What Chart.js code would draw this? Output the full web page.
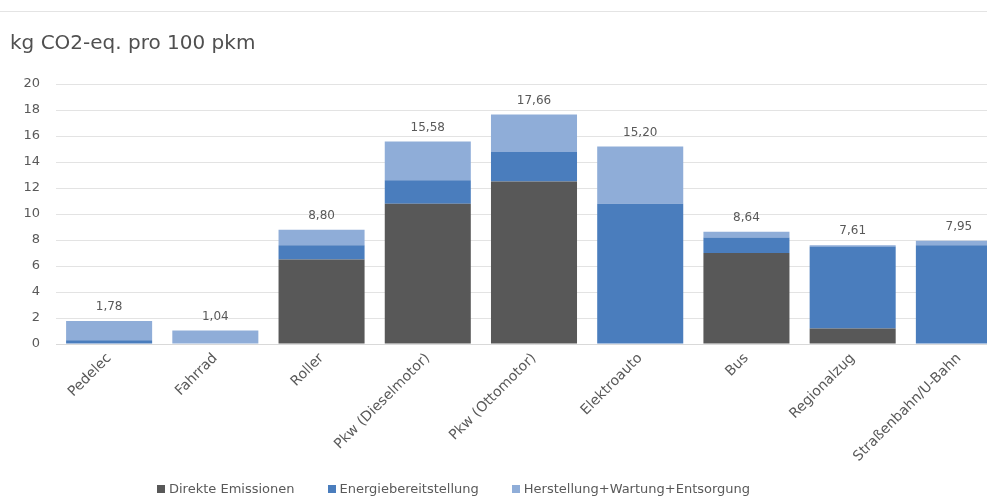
<!DOCTYPE html>
<html>
<head>
<meta charset="utf-8">
<script src="https://cdn.jsdelivr.net/npm/chart.js@4.4.1/dist/chart.umd.min.js"></script>
<style>
  html, body { margin: 0; padding: 0; background: #fff; overflow: hidden; }
  #wrap { position: relative; width: 987px; height: 497px; overflow: hidden; }
  #topline { position: absolute; left: 0; right: 0; top: 11px; border-top: 1px solid #e4e4e4; }
  #legend { position: absolute; left: 157px; top: 481px; display: flex; font: 13px "DejaVu Sans", Verdana, sans-serif; color: #595959; white-space: nowrap; }
  #legend .item { display: flex; align-items: center; margin-right: 33px; }
  #legend .box { width: 8px; height: 8px; margin-right: 4px; }
</style>
</head>
<body>
<div id="wrap">
  <div id="topline"></div>
  <canvas id="chart" width="1012" height="497"></canvas>
  <div id="legend"></div>
</div>
<script>
// Categories and series (kg CO2-eq. pro 100 pkm)
const categories = ['Pedelec', 'Fahrrad', 'Roller', 'Pkw (Dieselmotor)', 'Pkw (Ottomotor)',
    'Elektroauto', 'Bus', 'Regionalzug', 'Straßenbahn/U-Bahn'];
const direkteEmissionen = [0, 0, 6.5, 10.8, 12.5, 0, 7.0, 1.2, 0];
const energiebereitstellung = [0.3, 0, 1.1, 1.8, 2.27, 10.8, 1.2, 6.3, 7.6];
const herstellung = [1.48, 1.04, 1.2, 2.98, 2.89, 4.4, 0.44, 0.11, 0.35];
const totals = [1.78, 1.04, 8.80, 15.58, 17.66, 15.20, 8.64, 7.61, 7.95];
const yTicks = [0, 2, 4, 6, 8, 10, 12, 14, 16, 18, 20];

const fontFamily = '"DejaVu Sans", Verdana, sans-serif';

// Draw total values above each stack
const totalLabels = {
    id: 'totalLabels',
    afterDatasetsDraw(chart) {
        const { ctx } = chart;
        const meta = chart.getDatasetMeta(2);
        const yScale = chart.scales.y;
        ctx.save();
        ctx.font = '12px ' + fontFamily;
        ctx.fillStyle = '#595959';
        ctx.textAlign = 'center';
        ctx.textBaseline = 'bottom';
        meta.data.forEach((bar, i) => {
            const y = yScale.getPixelForValue(totals[i]);
            ctx.fillText(totals[i].toFixed(2).replace('.', ','), bar.x, y - 8);
        });
        ctx.restore();
    }
};

const ctx = document.getElementById('chart').getContext('2d');
const chart = new Chart(ctx, {
    type: 'bar',
    data: {
        labels: categories,
        datasets: [
            { label: 'Direkte Emissionen', data: direkteEmissionen, backgroundColor: '#585858' },
            { label: 'Energiebereitstellung', data: energiebereitstellung, backgroundColor: '#4a7dbd' },
            { label: 'Herstellung+Wartung+Entsorgung', data: herstellung, backgroundColor: '#8fadd8' }
        ]
    },
    options: {
        responsive: false,
        animation: false,
        layout: { padding: { left: 10, right: 0, top: 0, bottom: 26 } },
        datasets: { bar: { categoryPercentage: 0.81, barPercentage: 1.0 } },
        scales: {
            x: {
                stacked: true,
                grid: { display: false, drawTicks: false },
                border: { color: '#d9d9d9' },
                ticks: {
                    color: '#595959',
                    font: { family: fontFamily, size: 14 },
                    minRotation: 45,
                    maxRotation: 45,
                    padding: 6
                }
            },
            y: {
                stacked: true,
                min: 0,
                max: 20,
                afterBuildTicks(axis) { axis.ticks = yTicks.map(v => ({ value: v })); },
                afterFit(axis) { axis.width = 46; },
                grid: { color: '#e3e3e3', drawTicks: false },
                border: { display: false },
                ticks: {
                    color: '#595959',
                    font: { family: fontFamily, size: 13 },
                    padding: 16
                }
            }
        },
        plugins: {
            title: {
                display: true,
                text: 'kg CO2-eq. pro 100 pkm',
                align: 'start',
                color: '#505050',
                font: { family: fontFamily, size: 20, weight: 'normal' },
                padding: { top: 32, bottom: 28 }
            },
            legend: { display: false },
            tooltip: { enabled: false }
        }
    },
    plugins: [totalLabels]
});

// Legend built from the chart's datasets
const legendEl = document.getElementById('legend');
chart.data.datasets.forEach(ds => {
    const item = document.createElement('div');
    item.className = 'item';
    const box = document.createElement('span');
    box.className = 'box';
    box.style.background = ds.backgroundColor;
    item.appendChild(box);
    item.appendChild(document.createTextNode(ds.label));
    legendEl.appendChild(item);
});
</script>
</body>
</html>
